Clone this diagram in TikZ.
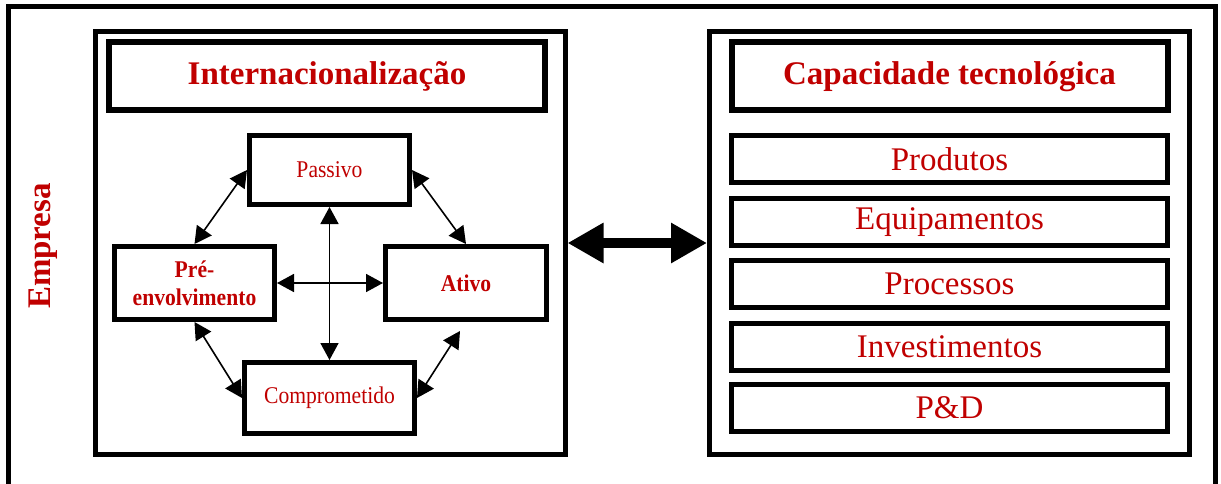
\documentclass[tikz,border=0pt]{standalone}
\usepackage{fontspec}
\setmainfont{Liberation Serif}
\newfontfamily\labelfont[FakeStretch=0.9]{Liberation Serif}
\usetikzlibrary{arrows.meta}
\definecolor{labelred}{RGB}{192,0,0}

\tikzset{
  container/.style={draw=black, line width=5pt, inner sep=0pt,
    minimum height=423pt},
  titlebox/.style={draw=black, line width=6pt, inner sep=0pt,
    minimum width=436pt, minimum height=68pt, text=labelred,
    font=\fontsize{33}{40}\selectfont\bfseries},
  itembox/.style={draw=black, line width=5pt, inner sep=0pt,
    minimum width=436pt, minimum height=47pt, text=labelred,
    font=\fontsize{33}{40}\selectfont},
  stagebox/.style={draw=black, line width=5pt, fill=white, inner sep=0pt,
    text=labelred, font=\labelfont\fontsize{24}{28}\selectfont},
  dbl/.style={line width=1.6pt, {Triangle[length=17pt,width=18pt]}-{Triangle[length=17pt,width=18pt]}},
  bigarrow/.style={line width=10pt, {Triangle[length=36pt,width=38pt]}-{Triangle[length=36pt,width=38pt]}}
}

\begin{document}
\begin{tikzpicture}[x=1pt,y=-1pt]
\useasboundingbox (0,0) rectangle (1221,484);
\clip (0,0) rectangle (1221,484);
\fill[white] (0,0) rectangle (1221,484);

% enterprise frame, open at the bottom
\draw[line width=5pt] (8.5,520) -- (8.5,6.5) -- (1215,6.5) -- (1215,520);
\node[anchor=base, rotate=90, text=labelred,
      font=\fontsize{33}{40}\selectfont\bfseries] (empresa) at (50,246) {Empresa};

% internationalisation block
\node[container, minimum width=470pt] (intl) at (330,243) {};
\node[titlebox] (intltitle) at (327,76.5) {Internacionalização};

\node[stagebox, minimum width=160pt, minimum height=69pt] (passivo) at (329.5,170) {Passivo};
\node[stagebox, minimum width=160pt, minimum height=73pt, align=center,
      font=\labelfont\fontsize{24}{28}\selectfont\bfseries] (pre) at (194.5,283)
      {Pré-\\envolvimento};
\node[stagebox, minimum width=161pt, minimum height=73pt,
      font=\labelfont\fontsize{24}{28}\selectfont\bfseries] (ativo) at (466,283) {Ativo};
\node[stagebox, minimum width=170pt, minimum height=71pt] (comp) at (329.5,398) {Comprometido};

\coordinate (ativotip) at ([xshift=-6pt,yshift=-9pt]ativo.south);

\draw[dbl] (passivo.west) -- (pre.north);
\draw[dbl] (passivo.east) -- (ativo.north);
\draw[dbl] (pre.south) -- (comp.west);
\draw[dbl] (ativotip) -- (comp.east);
\draw[dbl] (passivo.south) -- (comp.north);
\draw[dbl] (pre.east) -- (ativo.west);

% technological capability block
\node[container, minimum width=480pt] (tec) at (949.5,243) {};
\node[titlebox] (tectitle) at (949.5,76.5) {Capacidade tecnológica};
\node[itembox] (produtos) at (949.5,159) {Produtos};
\node[itembox] (equip) at (949.5,222) {Equipamentos};
\node[itembox] (proc) at (949.5,284) {Processos};
\node[itembox] (invest) at (949.5,347) {Investimentos};
\node[itembox] (ped) at (949.5,408) {P\&D};

% link between the two blocks
\draw[bigarrow] (intl.east) -- (tec.west);
\end{tikzpicture}
\end{document}
